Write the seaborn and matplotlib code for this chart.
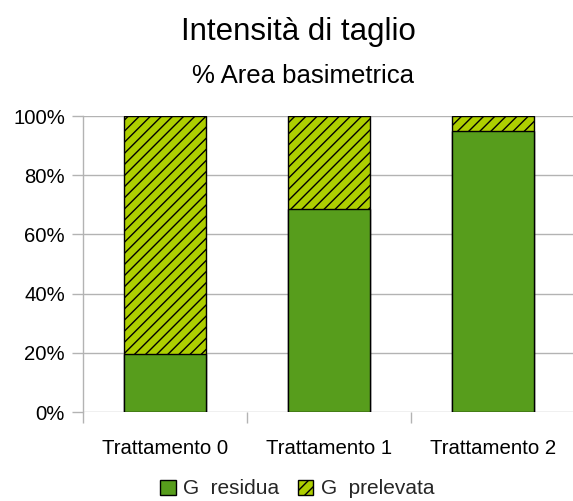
import matplotlib
matplotlib.use("Agg")
import matplotlib.pyplot as plt
import matplotlib.patches as mpatches
import seaborn as sns
import pandas as pd

categories = ["Trattamento 0", "Trattamento 1", "Trattamento 2"]
residua = [19.6, 68.7, 95.0]
prelevata = [80.4, 31.3, 5.0]
y_ticks = [0, 20, 40, 60, 80, 100]
y_tick_labels = ["0%", "20%", "40%", "60%", "80%", "100%"]
series_names = ["G  residua", "G  prelevata"]

col_residua = "#579d1c"
col_prelevata = "#aecf00"

sns.set_theme(style="white")
plt.rcParams["font.family"] = ["Liberation Sans", "DejaVu Sans"]
plt.rcParams["hatch.linewidth"] = 1.0
plt.rcParams["hatch.color"] = "black"

df = pd.DataFrame({
    "categoria": categories,
    "residua": residua,
    "totale": [r + p for r, p in zip(residua, prelevata)],
})

fig = plt.figure(figsize=(5.73, 5.01), dpi=100)
ax = fig.add_axes([83 / 573, 1 - 412 / 501, 492 / 573, 296 / 501])

# upper segment (prelevata) drawn as full stack, residua over it
sns.barplot(data=df, x="categoria", y="totale", color=col_prelevata,
            saturation=1, width=0.5, edgecolor="black", linewidth=1.0,
            hatch="///", ax=ax)
sns.barplot(data=df, x="categoria", y="residua", color=col_residua,
            saturation=1, width=0.5, edgecolor="black", linewidth=1.0,
            ax=ax)

ax.set_xlim(-0.5, 2.5)
ax.set_ylim(0, 100)
ax.set_xlabel("")
ax.set_ylabel("")
ax.set_yticks(y_ticks)
ax.set_yticklabels(y_tick_labels)
ax.yaxis.grid(True, color="#b3b3b3", linewidth=1.0)
ax.set_axisbelow(True)

for side in ["top", "right", "bottom"]:
    ax.spines[side].set_visible(False)
ax.spines["left"].set_color("#b3b3b3")
ax.spines["left"].set_linewidth(1.0)

ax.tick_params(axis="y", which="major", length=8, width=1.0, color="#b3b3b3",
               pad=5, labelsize=14.6, labelcolor="black", left=True)
ax.set_xticks([0, 1, 2])
ax.set_xticklabels(categories)
ax.set_xticks([-0.5, 0.5, 1.5, 2.5], minor=True)
ax.tick_params(axis="x", which="major", length=0, pad=19.5, labelsize=14.7,
               labelcolor="black", bottom=True)
ax.tick_params(axis="x", which="minor", length=8, width=1.0, color="#b3b3b3",
               bottom=True)

fig.text(298 / 573, 1 - 40 / 501, "Intensità di taglio", ha="center",
         va="baseline", fontsize=22.5, color="black")
fig.text(303 / 573, 1 - 83 / 501, "% Area basimetrica", ha="center",
         va="baseline", fontsize=18.5, color="black")

handles = [
    mpatches.Patch(facecolor=col_residua, edgecolor="black", linewidth=1.0,
                   label=series_names[0]),
    mpatches.Patch(facecolor=col_prelevata, edgecolor="black", linewidth=1.0,
                   hatch="///", label=series_names[1]),
]
fig.legend(handles=handles, loc="center", bbox_to_anchor=(297 / 573, 1 - 489 / 501),
           ncol=2, frameon=False, fontsize=15, handlelength=0.75,
           handleheight=0.75, handletextpad=0.35, columnspacing=0.9,
           borderpad=0.1)

fig.savefig("out.png", dpi=100)
